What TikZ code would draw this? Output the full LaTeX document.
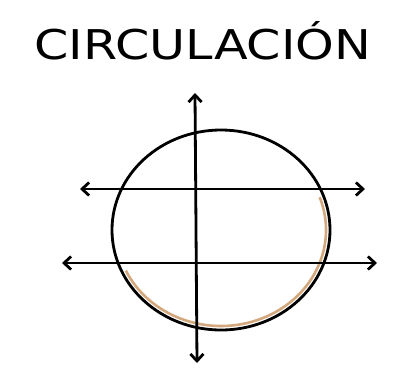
\documentclass[tikz,border=0pt]{standalone}
\usepackage{fontspec}
\newfontfamily\titlefont{DejaVu Sans}
\usetikzlibrary{arrows.meta}
\tikzset{
  axis/.style={line width=2.8pt, {Straight Barb[length=7pt,width=13pt,line width=2.8pt]}-{Straight Barb[length=7pt,width=13pt,line width=2.8pt]}},
  ring/.style={line width=2.8pt, black},
  shade/.style={line width=2.6pt, color=brown!80!white, opacity=0.85},
}
\begin{document}
\begin{tikzpicture}[x=1pt,y=-1pt]
  \useasboundingbox (0,0) rectangle (416,384);
  \node[font=\titlefont\fontsize{41}{41}\selectfont, xscale=1.2, text=black] (title) at (203,41) {CIRCULACIÓN};
  \coordinate (c) at (221,230);
  \draw[shade] (c) ++(-20:105 and 96) arc[start angle=-20, end angle=155, x radius=105, y radius=96];
  \draw[ring] (c) ellipse[x radius=109, y radius=100];
  \coordinate (vt) at (195,93);
  \coordinate (vb) at (197,363);
  \coordinate (h1l) at (80,189);
  \coordinate (h1r) at (365,189);
  \coordinate (h2l) at (62,263);
  \coordinate (h2r) at (377,263);
  \draw[axis] (vb) -- (vt);
  \draw[axis] (h1l) -- (h1r);
  \draw[axis] (h2l) -- (h2r);
\end{tikzpicture}
\end{document}
